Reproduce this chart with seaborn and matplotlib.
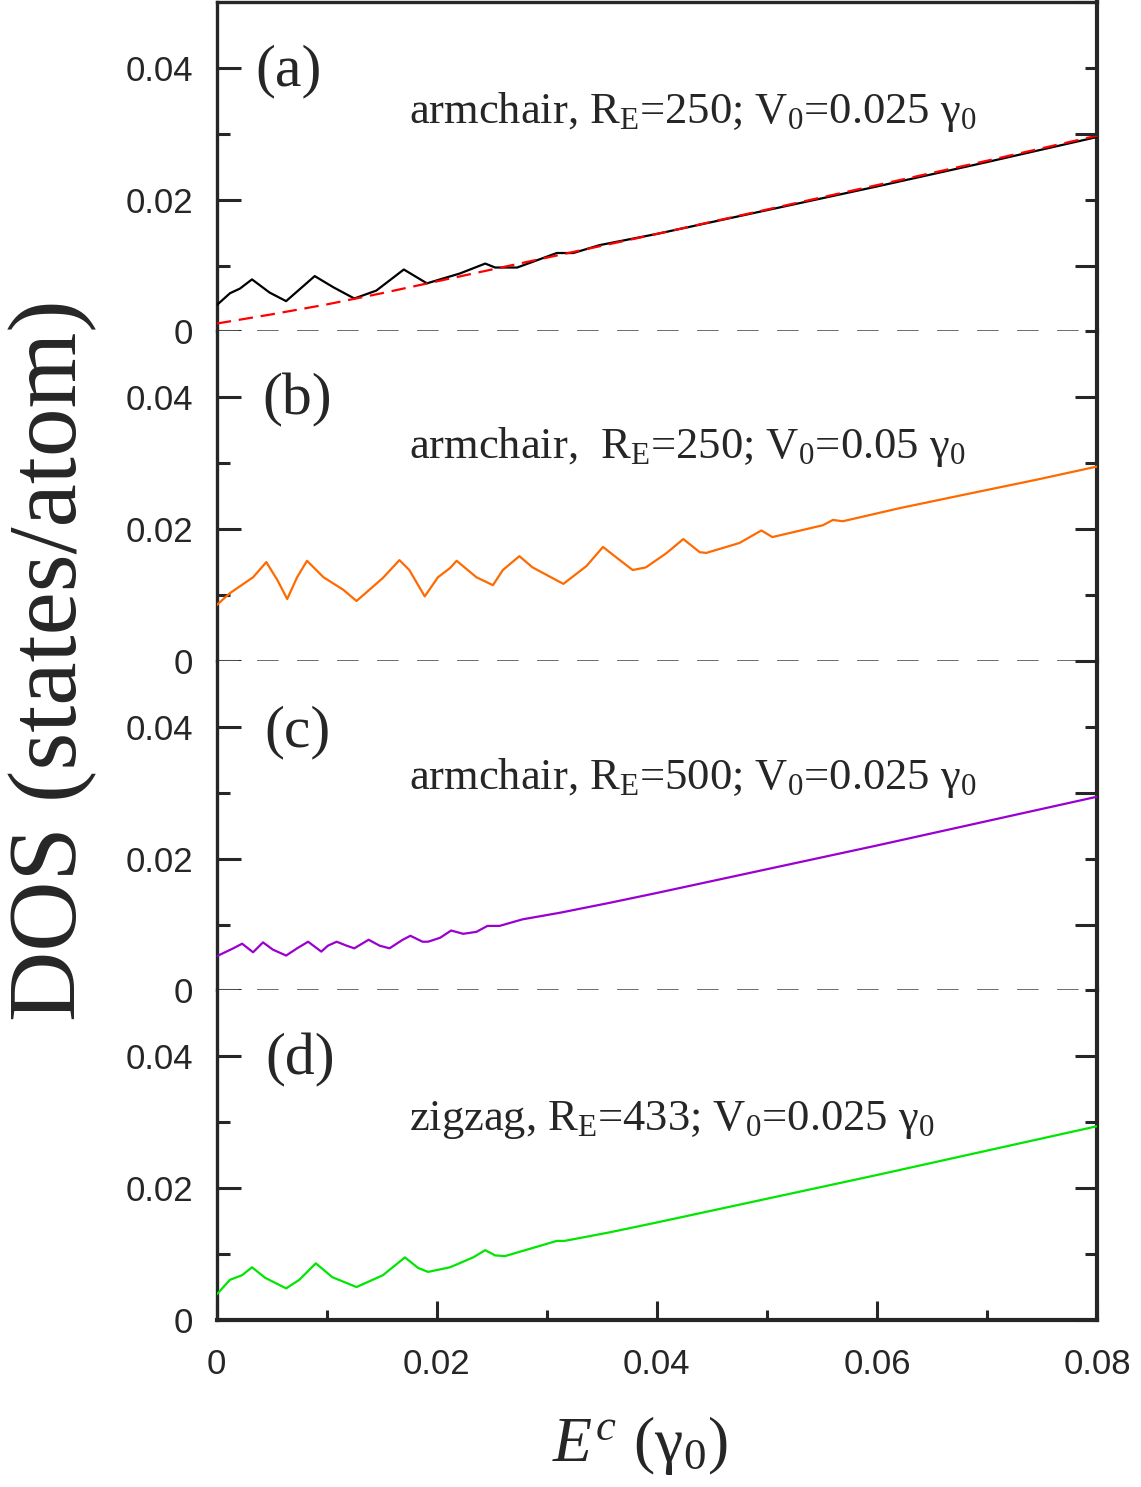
import numpy as np
import pandas as pd
import matplotlib
matplotlib.use("Agg")
import matplotlib.pyplot as plt
from matplotlib.ticker import MultipleLocator, FixedLocator, FuncFormatter
import seaborn as sns

# ---- data ----
# (a) armchair, R_E=250, V0=0.025
e_a = [0.0, 0.0012, 0.0021, 0.0032, 0.0048, 0.0063, 0.0089, 0.0106, 0.0125, 0.0145,
       0.0170, 0.0191, 0.0221, 0.0244, 0.0253, 0.0273, 0.0309, 0.0324, 0.0348, 0.040,
       0.050, 0.060, 0.070, 0.080]
dos_a = [0.0040, 0.0058, 0.0065, 0.0079, 0.0059, 0.0046, 0.0084, 0.0067, 0.0050, 0.0062,
         0.0094, 0.0073, 0.0088, 0.0103, 0.0097, 0.0097, 0.0119, 0.0119, 0.0131, 0.0148,
         0.0184, 0.0220, 0.0257, 0.0295]
# red dashed reference curve in (a)
e_fit = [0.0, 0.005, 0.01, 0.015, 0.02, 0.025, 0.03, 0.04, 0.05, 0.06, 0.07, 0.08]
dos_fit = [0.0012, 0.0026, 0.0041, 0.0058, 0.0076, 0.0094, 0.0112, 0.0148, 0.0185,
           0.0222, 0.0259, 0.0297]
# (b) armchair, R_E=250, V0=0.05
e_b = [0.0, 0.0012, 0.0033, 0.0045, 0.0055, 0.0064, 0.0073, 0.0082, 0.0097, 0.0115,
       0.0127, 0.0151, 0.0166, 0.0175, 0.0189, 0.0201, 0.0212, 0.0218, 0.0236, 0.0251,
       0.0260, 0.0275, 0.0287, 0.0315, 0.0336, 0.0351, 0.0364, 0.0378, 0.0390, 0.0409,
       0.0424, 0.0439, 0.0445, 0.0475, 0.0495, 0.0505, 0.0551, 0.0560, 0.0569, 0.0621,
       0.0687, 0.0745, 0.080]
dos_b = [0.0085, 0.0103, 0.0127, 0.0150, 0.0123, 0.0094, 0.0127, 0.0152, 0.0127, 0.0108,
         0.0091, 0.0126, 0.0153, 0.0138, 0.0098, 0.0127, 0.0141, 0.0152, 0.0127, 0.0115,
         0.0138, 0.0159, 0.0142, 0.0117, 0.0144, 0.0173, 0.0156, 0.0138, 0.0142, 0.0164,
         0.0185, 0.0165, 0.0164, 0.0179, 0.0198, 0.0188, 0.0206, 0.0214, 0.0212, 0.0232,
         0.0255, 0.0275, 0.0295]
# (c) armchair, R_E=500, V0=0.025
e_c = [0.0, 0.0015, 0.0023, 0.0033, 0.0042, 0.0051, 0.0063, 0.0073, 0.0083, 0.0095,
       0.0101, 0.0109, 0.0118, 0.0125, 0.0138, 0.0148, 0.0157, 0.0169, 0.0176, 0.0187,
       0.0192, 0.0203, 0.0213, 0.0224, 0.0236, 0.0246, 0.0257, 0.0278, 0.0312, 0.0357,
       0.040, 0.050, 0.060, 0.070, 0.080]
dos_c = [0.0052, 0.0064, 0.0071, 0.0058, 0.0073, 0.0062, 0.0053, 0.0064, 0.0074, 0.0059,
         0.0068, 0.0074, 0.0068, 0.0064, 0.0077, 0.0068, 0.0064, 0.0077, 0.0083, 0.0074,
         0.0074, 0.0080, 0.0091, 0.0086, 0.0089, 0.0098, 0.0098, 0.0108, 0.0118, 0.0133,
         0.0148, 0.0184, 0.0220, 0.0257, 0.0294]
# (d) zigzag, R_E=433, V0=0.025
e_d = [0.0, 0.0012, 0.0023, 0.0032, 0.0044, 0.0063, 0.0075, 0.0090, 0.0105, 0.0127,
       0.0151, 0.0171, 0.0183, 0.0192, 0.0212, 0.0233, 0.0244, 0.0253, 0.0262, 0.0309,
       0.0316, 0.0357, 0.040, 0.050, 0.060, 0.070, 0.080]
dos_d = [0.0039, 0.0061, 0.0068, 0.0080, 0.0064, 0.0048, 0.0061, 0.0086, 0.0065, 0.0050,
         0.0068, 0.0095, 0.0079, 0.0073, 0.0080, 0.0095, 0.0106, 0.0098, 0.0097, 0.0120,
         0.0120, 0.0133, 0.0148, 0.0184, 0.0220, 0.0257, 0.0294]

panel_tags = ["(a)", "(b)", "(c)", "(d)"]
panel_notes = [
    "armchair, R$_{\\mathrm{E}}$=250; V$_0$=0.025 \u03b3$_0$",
    "armchair,  R$_{\\mathrm{E}}$=250; V$_0$=0.05 \u03b3$_0$",
    "armchair, R$_{\\mathrm{E}}$=500; V$_0$=0.025 \u03b3$_0$",
    "zigzag, R$_{\\mathrm{E}}$=433; V$_0$=0.025 \u03b3$_0$",
]
note_y = [0.0317, 0.0308, 0.0305, 0.0288]
tag_xy = [(0.0065, 0.0395), (0.0073, 0.0395), (0.0073, 0.0391), (0.0076, 0.0394)]
colors = ["black", "#ff6a00", "#9a00d0", "#00e600"]

series = [(e_a, dos_a), (e_b, dos_b), (e_c, dos_c), (e_d, dos_d)]

# ---- style ----
sns.set_style("ticks")
plt.rcParams["font.family"] = ["Liberation Sans", "DejaVu Sans"]
plt.rcParams["mathtext.fontset"] = "custom"
plt.rcParams["mathtext.rm"] = "Liberation Serif"
plt.rcParams["mathtext.it"] = "Liberation Serif:italic"
plt.rcParams["axes.linewidth"] = 2.4
serif = ["Liberation Serif", "DejaVu Serif"]

fig, axes = plt.subplots(4, 1, figsize=(11.41, 14.87), dpi=100, sharex=True,
                         gridspec_kw=dict(hspace=0))
L, R, B, T = 0.190, 0.9614, 0.1123, 0.9987
fig.subplots_adjust(left=L, right=R, bottom=B, top=T)

for i, ax in enumerate(axes):
    e, d = series[i]
    df = pd.DataFrame({"E": e, "DOS": d})
    sns.lineplot(data=df, x="E", y="DOS", ax=ax, color=colors[i], lw=1.6,
                 estimator=None, zorder=3)
    if i == 0:
        fit = pd.DataFrame({"E": e_fit, "DOS": dos_fit})
        sns.lineplot(data=fit, x="E", y="DOS", ax=ax, color="red", lw=1.6,
                     dashes=False, estimator=None, zorder=4)
        ax.lines[-1].set_dashes((6.5, 3.5))
    if i < 3:
        ax.axhline(0, color="#555555", lw=1.2, dashes=(13, 11), clip_on=False, zorder=2)

    ax.set_xlim(0, 0.08)
    ax.set_ylim(0, 0.05)
    ax.set_xlabel("")
    ax.set_ylabel("")
    ax.spines["top"].set_visible(i == 0)
    ax.spines["bottom"].set_visible(i == 3)
    ax.spines["right"].set_linewidth(3.0)

    ax.yaxis.set_major_locator(FixedLocator([0, 0.02, 0.04]))
    ax.yaxis.set_minor_locator(FixedLocator([0.01, 0.03]))
    ax.yaxis.set_major_formatter(FuncFormatter(lambda v, p: "0" if v == 0 else f"{v:.2f}"))
    ax.tick_params(axis="y", which="major", direction="in", length=17, width=2.2,
                   labelsize=25, pad=17, right=False)
    ax.tick_params(axis="y", which="minor", direction="in", length=9, width=2.2, right=False)

    ax.xaxis.set_major_locator(MultipleLocator(0.02))
    ax.xaxis.set_minor_locator(MultipleLocator(0.01))
    if i == 3:
        ax.spines["bottom"].set_linewidth(3.0)
        ax.xaxis.set_major_formatter(FuncFormatter(lambda v, p: "0" if v == 0 else f"{v:.2f}"))
        ax.tick_params(axis="x", which="major", direction="in", length=14, width=2.2,
                       labelsize=25, pad=20, top=False)
        ax.tick_params(axis="x", which="minor", direction="in", length=7, width=2.2, top=False)
    else:
        ax.tick_params(axis="x", which="both", bottom=False, top=False, labelbottom=False)

    tx, ty = tag_xy[i]
    ax.text(tx, ty, panel_tags[i], fontsize=43, family=serif, ha="center", va="center")
    ax.text(0.0175, note_y[i], panel_notes[i], fontsize=32, family=serif,
            ha="left", va="baseline")

# right-hand ticks run continuously over the whole stack
rax = fig.add_axes([L, B, R - L, T - B])
rax.patch.set_visible(False)
for s in rax.spines.values():
    s.set_visible(False)
rax.set_ylim(0, 0.2)
rax.set_xticks([])
rax.yaxis.tick_right()
rax.yaxis.set_major_locator(MultipleLocator(0.02))
rax.yaxis.set_minor_locator(MultipleLocator(0.01))
rax.tick_params(axis="y", which="major", direction="in", length=16, width=2.2,
                labelright=False, left=False)
rax.tick_params(axis="y", which="minor", direction="in", length=8.5, width=2.2,
                labelright=False, left=False)

fig.text(0.046, 0.556, "DOS (states/atom)", rotation=90, fontsize=70, family=serif,
         ha="center", va="center")
fig.text(0.561, 0.028, "$E^c$ (\u03b3$_0$)", fontsize=46, family=serif,
         ha="center", va="center")

fig.savefig("out.png", dpi=100)
